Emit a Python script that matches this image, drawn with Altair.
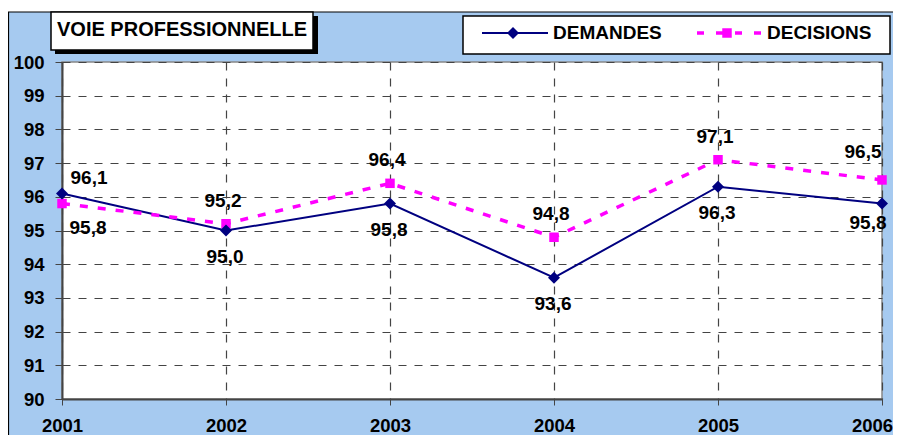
import altair as alt
import pandas as pd

# ---- data ----
years = [2001, 2002, 2003, 2004, 2005, 2006]
demandes = [96.1, 95.0, 95.8, 93.6, 96.3, 95.8]
decisions = [95.8, 95.2, 96.4, 94.8, 97.1, 96.5]
y_ticks = [90, 91, 92, 93, 94, 95, 96, 97, 98, 99, 100]
title_text = "VOIE PROFESSIONNELLE"
series_names = ["DEMANDES", "DECISIONS"]

df = pd.DataFrame({"year": years, "demandes": demandes, "decisions": decisions})
df["demandes_lbl"] = [f"{v:.1f}".replace(".", ",") for v in demandes]
df["decisions_lbl"] = [f"{v:.1f}".replace(".", ",") for v in decisions]

FONT = "Liberation Sans"
NAVY = "#000080"
MAGENTA = "#FF00FF"
BG = "#A6CAF0"
W, H = 820, 337
PAD = {"left": 54, "top": 54, "right": 11, "bottom": 36}

xs = alt.Scale(domain=[2001, 2006], nice=False, zero=False)
ys = alt.Scale(domain=[90, 100], nice=False, zero=False)

x_axis = alt.Axis(values=years, format="d", title=None, labelFont=FONT, labelFontSize=18.5,
                  labelFontWeight="bold", labelColor="black", labelFlush=False,
                  labelOverlap=False, labelPadding=11, tickSize=6, tickColor="#444",
                  labelOffset=alt.ConditionalAxisNumber(
                      condition={"test": "datum.value == 2006", "value": -10}, value=0),
                  domainColor="#444", domainWidth=2, grid=True, gridDash=[8, 8],
                  gridColor="#444", gridWidth=1.2)
y_axis = alt.Axis(values=y_ticks, tickCount=11, title=None, labelFont=FONT, labelFontSize=18.5,
                  labelFontWeight="bold", labelColor="black", labelPadding=11,
                  labelOverlap=False, tickSize=7, tickColor="#444", domainColor="#444",
                  domainWidth=2, grid=True, gridDash=[8, 8], gridColor="#444", gridWidth=1.2)

X = alt.X("year:Q", scale=xs, axis=x_axis)


def Y(field):
    return alt.Y(f"{field}:Q", scale=ys, axis=y_axis)


base = alt.Chart(df)

line_d = base.mark_line(color=NAVY, strokeWidth=2).encode(x=X, y=Y("demandes"))
line_c = base.mark_line(color=MAGENTA, strokeWidth=3.5, strokeDash=[8, 10]).encode(
    x=X, y=Y("decisions"))
pts_c = base.mark_point(shape="square", filled=True, size=90, color=MAGENTA, opacity=1).encode(
    x=X, y=Y("decisions"))
pts_d = base.mark_point(shape="diamond", filled=True, size=144, color=NAVY, opacity=1).encode(
    x=X, y=Y("demandes"))


def labels(field, sel, dx, dy):
    return base.transform_filter(
        alt.FieldOneOfPredicate(field="year", oneOf=sel)
    ).mark_text(dx=dx, dy=dy, font=FONT, fontSize=19, fontWeight="bold",
                color="black", baseline="middle", align="center").encode(
        x=X, y=Y(field), text=f"{field}_lbl:N")


lbls = [
    labels("demandes", [2001], 27, -15),
    labels("demandes", [2002, 2003, 2004, 2005], -1, 26),
    labels("demandes", [2006], -14, 19),
    labels("decisions", [2001], 26, 24),
    labels("decisions", [2002, 2003, 2004, 2005], -3, -23),
    labels("decisions", [2006], -19, -28),
]

one = alt.Chart(pd.DataFrame({"k": [0]}))

# decorations: white strip at top, outer border
strip = one.mark_rect(color="white").encode(
    x=alt.value(-54), x2=alt.value(831), y=alt.value(-54), y2=alt.value(-50))
border_top = one.mark_rule(color="black", strokeWidth=1.2).encode(
    x=alt.value(-54), x2=alt.value(831), y=alt.value(-50))
border_left = one.mark_rule(color="black", strokeWidth=1.2).encode(
    x=alt.value(-53.5), y=alt.value(-50), y2=alt.value(373))

# title box with shadow
shadow = one.mark_rect(color="black").encode(
    x=alt.value(-7), x2=alt.value(256), y=alt.value(-46), y2=alt.value(-8))
tbox = one.mark_rect(fill="white", stroke="black", strokeWidth=1.5).encode(
    x=alt.value(-11), x2=alt.value(251), y=alt.value(-50), y2=alt.value(-12))
ttext = one.mark_text(font=FONT, fontSize=20, fontWeight="bold", color="black",
                      align="left", baseline="middle").encode(
    x=alt.value(-5), y=alt.value(-32), text=alt.value(title_text))

# legend
lbox = one.mark_rect(fill="white", stroke="black", strokeWidth=1.5).encode(
    x=alt.value(401), x2=alt.value(828), y=alt.value(-46), y2=alt.value(-8))
leg_d_line = one.mark_rule(color=NAVY, strokeWidth=2).encode(
    x=alt.value(420), x2=alt.value(486), y=alt.value(-29))
leg_d_pt = one.mark_point(shape="diamond", filled=True, size=144, color=NAVY, opacity=1).encode(
    x=alt.value(451), y=alt.value(-29))
leg_d_txt = one.mark_text(font=FONT, fontSize=19, fontWeight="bold", color="black",
                          align="left", baseline="middle").encode(
    x=alt.value(491), y=alt.value(-29), text=alt.value(series_names[0]))
leg_c_line = one.mark_rule(color=MAGENTA, strokeWidth=3.5, strokeDash=[7, 12]).encode(
    x=alt.value(635), x2=alt.value(700), y=alt.value(-29))
leg_c_pt = one.mark_point(shape="square", filled=True, size=90, color=MAGENTA, opacity=1).encode(
    x=alt.value(665), y=alt.value(-29))
leg_c_txt = one.mark_text(font=FONT, fontSize=19, fontWeight="bold", color="black",
                          align="left", baseline="middle").encode(
    x=alt.value(705), y=alt.value(-29), text=alt.value(series_names[1]))

chart = alt.layer(
    strip, border_top, border_left, shadow, tbox, ttext,
    lbox, leg_d_line, leg_d_pt, leg_d_txt, leg_c_line, leg_c_pt, leg_c_txt,
    line_d, line_c, pts_c, pts_d, *lbls
).properties(
    width=W, height=H, padding=PAD,
    autosize=alt.AutoSizeParams(type="none"),
    background=BG,
).configure_view(
    fill="white", stroke="#888", strokeWidth=1.5
)

chart.save("out.html", embed_options={"renderer": "svg", "actions": False})
